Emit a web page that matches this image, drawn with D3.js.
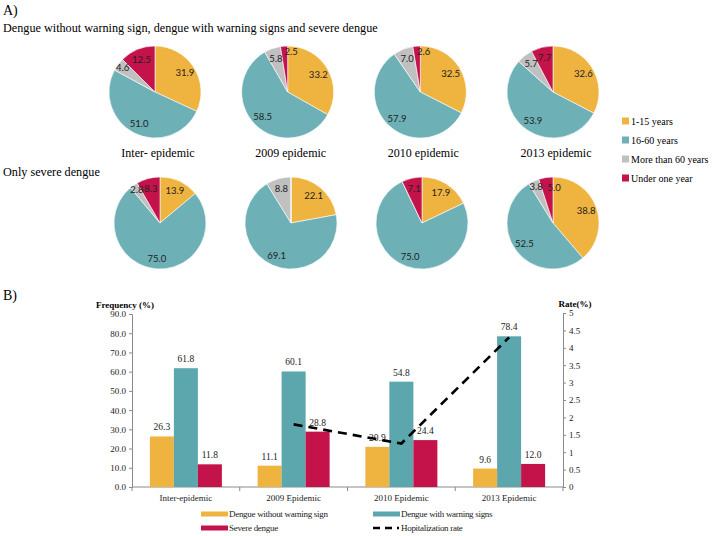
<!DOCTYPE html>
<html><head><meta charset="utf-8">
<script src="https://cdn.jsdelivr.net/npm/d3@7"></script>
<style>body{margin:0;background:#fff}svg{display:block}</style>
</head><body>
<svg id="c" width="714" height="536"></svg>
<script>
// ---------- DATA ----------
const ageGroups = ["1-15 years", "16-60 years", "More than 60 years", "Under one year"];
const periods = ["Inter- epidemic", "2009 epidemic", "2010 epidemic", "2013 epidemic"];
const allDengue = [
  [31.9, 51.0, 4.6, 12.5],
  [33.2, 58.5, 5.8, 2.5],
  [32.5, 57.9, 7.0, 2.6],
  [32.6, 53.9, 5.7, 7.7]
];
const severeOnly = [
  [13.9, 75.0, 2.8, 8.3],
  [22.1, 69.1, 8.8, 0],
  [17.9, 75.0, 0, 7.1],
  [38.8, 52.5, 3.8, 5.0]
];
const barCategories = ["Inter-epidemic", "2009 Epidemic", "2010 Epidemic", "2013 Epidemic"];
const barSeries = ["Dengue without warning sign", "Dengue with warning signs", "Severe dengue"];
const withoutWarning = [26.3, 11.1, 20.9, 9.6];
const withWarning = [61.8, 60.1, 54.8, 78.4];
const severeDengue = [11.8, 28.8, 24.4, 12.0];
const hospRate = [null, 1.8, 1.25, 4.3];
const lineLabel = "Hopitalization rate";
const freqTicks = [0, 10, 20, 30, 40, 50, 60, 70, 80, 90];
const rateTicks = [0, 0.5, 1, 1.5, 2, 2.5, 3, 3.5, 4, 4.5, 5];

// ---------- STYLE ----------
const pieColors = ["#EFB33F", "#6DB0B6", "#C0C0C0", "#C4124B"];
const barColors = ["#EFB33F", "#5CA6AD", "#C4124B"];
const serif = "'Liberation Serif','Times New Roman',serif";
const sans = "Lato,'Liberation Sans',sans-serif";

const svg = d3.select("#c");

svg.append("text").attr("x", 3).attr("y", 15).attr("font-family", serif).attr("font-size", 14).text("A)");
svg.append("text").attr("x", 3).attr("y", 32).attr("font-family", serif).attr("font-size", 12.2)
  .text("Dengue without warning sign, dengue with warning signs and severe dengue");
svg.append("text").attr("x", 3).attr("y", 176).attr("font-family", serif).attr("font-size", 12.2)
  .text("Only severe dengue");

// ---------- PIES ----------
const R = 46;
const pie = d3.pie().sort(null).value(d => d);
const arc = d3.arc().innerRadius(0).outerRadius(R);
const xTop = d3.scalePoint().domain(periods).range([155, 553]);
const xBot = d3.scalePoint().domain(periods).range([160, 553]);

function drawPies(data, xs, cy) {
  periods.forEach((p, i) => {
    const g = svg.append("g").attr("transform", `translate(${xs(p)},${cy})`);
    const arcs = pie(data[i]);
    g.selectAll("path").data(arcs).join("path")
      .attr("d", arc).attr("fill", (d, j) => pieColors[j])
      .attr("stroke", "#fff").attr("stroke-width", 0.6);
    g.selectAll("text").data(arcs.filter(d => d.data > 0)).join("text")
      .each(function (d) {
        const r = d.data < 5 ? R * 0.88 : R * 0.77;
        let a = (d.startAngle + d.endAngle) / 2;
        const nearTop = Math.abs(a - 2 * Math.PI) < 0.175 && d.data < 6;
        d3.select(this)
          .attr("x", Math.sin(a) * r).attr("y", -Math.cos(a) * r)
          .attr("text-anchor", nearTop ? "start" : "middle");
      })
      .attr("dy", "0.35em")
      .attr("font-family", sans).attr("font-size", 9.5).attr("fill", "#222")
      .text(d => d.data.toFixed(1));
  });
}
drawPies(allDengue, xTop, 92);
drawPies(severeOnly, xBot, 223);

svg.selectAll("text.per").data(periods).join("text").attr("class", "per")
  .attr("x", d => xTop(d) + 3).attr("y", 157).attr("text-anchor", "middle")
  .attr("font-family", serif).attr("font-size", 12).text(d => d);

const lg = svg.append("g");
const ly = d3.scalePoint().domain(ageGroups).range([121, 178]);
lg.selectAll("rect").data(ageGroups).join("rect")
  .attr("x", 622).attr("y", d => ly(d) - 3.5).attr("width", 7).attr("height", 7)
  .attr("fill", (d, i) => pieColors[i]);
lg.selectAll("text").data(ageGroups).join("text")
  .attr("x", 631).attr("y", d => ly(d) + 4)
  .attr("font-family", serif).attr("font-size", 10).text(d => d);

// ---------- BAR CHART ----------
svg.append("text").attr("x", 3).attr("y", 300).attr("font-family", serif).attr("font-size", 14).text("B)");

const x0 = d3.scaleBand().domain(barCategories).range([132, 563]).paddingInner(0).paddingOuter(0);
const x1 = d3.scaleBand().domain(barSeries).range([0, x0.bandwidth()]).paddingInner(0).paddingOuter(0.745);
const yF = d3.scaleLinear().domain([0, 90]).range([487, 314]);
const yR = d3.scaleLinear().domain([0, 5]).range([487, 313]);
const seriesVals = [withoutWarning, withWarning, severeDengue];

const axisColor = "#8a8a8a";
function styleAxis(g, fs) {
  g.selectAll("path,line").attr("stroke", axisColor);
  g.selectAll("text").attr("font-family", serif).attr("font-size", fs).attr("fill", "#222");
}
svg.append("g").attr("transform", "translate(132,0)")
  .call(d3.axisLeft(yF).tickValues(freqTicks).tickFormat(d3.format(".1f")).tickSize(3).tickSizeOuter(3).tickPadding(3))
  .call(g => styleAxis(g, 9));
svg.append("g").attr("transform", "translate(563,0)")
  .call(d3.axisRight(yR).tickValues(rateTicks).tickFormat(d => d3.format("~g")(d)).tickSize(3).tickSizeOuter(3).tickPadding(3))
  .call(g => styleAxis(g, 9));
const xa = svg.append("g").attr("transform", "translate(0,487)");
xa.append("line").attr("x1", 132).attr("x2", 563).attr("stroke", axisColor);
xa.selectAll("line.t").data(d3.range(barCategories.length + 1)).join("line").attr("class", "t")
  .attr("x1", i => 132 + i * x0.step()).attr("x2", i => 132 + i * x0.step())
  .attr("y1", 0).attr("y2", 4).attr("stroke", axisColor);
xa.selectAll("text").data(barCategories).join("text")
  .attr("x", d => x0(d) + x0.bandwidth() / 2).attr("y", 14).attr("text-anchor", "middle")
  .attr("font-family", serif).attr("font-size", 9).attr("fill", "#222").text(d => d);

svg.append("text").attr("x", 125).attr("y", 308).attr("text-anchor", "middle")
  .attr("font-family", serif).attr("font-size", 9).attr("font-weight", "bold").text("Frequency (%)");
svg.append("text").attr("x", 575).attr("y", 307).attr("text-anchor", "middle")
  .attr("font-family", serif).attr("font-size", 9).attr("font-weight", "bold").text("Rate(%)");

barCategories.forEach((c, i) => {
  const g = svg.append("g").attr("transform", `translate(${x0(c)},0)`);
  barSeries.forEach((s, j) => {
    const v = seriesVals[j][i];
    g.append("rect").attr("x", x1(s)).attr("y", yF(v)).attr("width", x1.bandwidth())
      .attr("height", yF(0) - yF(v)).attr("fill", barColors[j]);
    g.append("text").attr("x", x1(s) + x1.bandwidth() / 2).attr("y", yF(v) - 6)
      .attr("text-anchor", "middle").attr("font-family", serif).attr("font-size", 9.5)
      .attr("fill", "#222").text(v.toFixed(1));
  });
});

const line = d3.line().defined(d => d.v != null)
  .x(d => x0(d.c) + x0.bandwidth() / 2).y(d => yR(d.v));
svg.append("path").datum(barCategories.map((c, i) => ({ c, v: hospRate[i] })))
  .attr("d", line).attr("fill", "none").attr("stroke", "#000")
  .attr("stroke-width", 2.6).attr("stroke-dasharray", "9,6");

// bottom legend
const legItems = [
  { label: barSeries[0], color: barColors[0], x: 201, y: 514, type: "rect" },
  { label: barSeries[1], color: barColors[1], x: 373, y: 514, type: "rect" },
  { label: barSeries[2], color: barColors[2], x: 201, y: 528, type: "rect" },
  { label: lineLabel, color: "#000", x: 373, y: 528, type: "line" }
];
legItems.forEach(it => {
  if (it.type === "rect") {
    svg.append("rect").attr("x", it.x).attr("y", it.y - 2.5).attr("width", 27).attr("height", 5).attr("fill", it.color);
  } else {
    svg.append("line").attr("x1", it.x).attr("x2", it.x + 26).attr("y1", it.y).attr("y2", it.y)
      .attr("stroke", "#000").attr("stroke-width", 2.6).attr("stroke-dasharray", "7,5");
  }
  svg.append("text").attr("x", it.x + 28).attr("y", it.y + 3)
    .attr("font-family", serif).attr("font-size", 9).attr("letter-spacing", -0.3).attr("fill", "#222").text(it.label);
});
</script>
</body></html>
